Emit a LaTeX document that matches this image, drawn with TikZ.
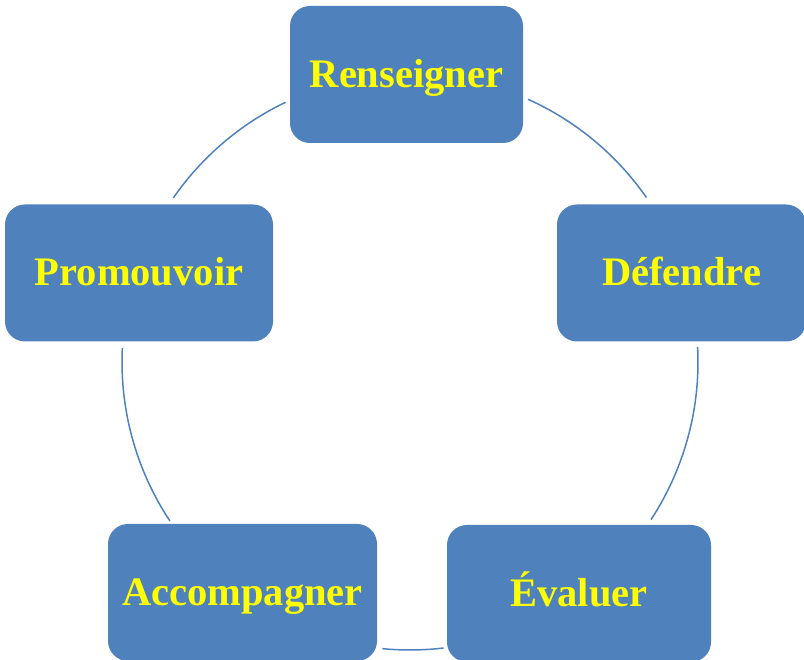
\documentclass[tikz,border=0pt]{standalone}
\usepackage{fontspec}
\setmainfont{Liberation Serif}
\usetikzlibrary{calc}
\definecolor{boxblue}{HTML}{4F81BD}
\definecolor{txtyellow}{HTML}{FFFF00}
\begin{document}
\begin{tikzpicture}[x=1pt, y=1pt,
    etape/.style={fill=boxblue, rounded corners=20pt, minimum height=137pt, inner sep=0pt,
        text height=32pt, text depth=6pt, text=txtyellow, font=\bfseries\fontsize{40.5}{46}\selectfont},
    cercle/.style={draw=boxblue, line width=1.5pt}]
    \clip (0,0) rectangle (804,660);
    \coordinate (O) at (410,298);
    \node[etape, minimum width=233pt] (R) at (406.5,585.5) {Renseigner};
    \node[etape, minimum width=249pt] (D) at (681.5,387) {Défendre};
    \node[etape, minimum width=264pt] (E) at (579,66.5) {Évaluer};
    \node[etape, minimum width=269pt] (A) at (242.5,67.5) {Accompagner};
    \node[etape, minimum width=268pt] (P) at (139,387) {Promouvoir};
    \foreach \a/\b in {65.8/34.8, 3.0/-33.2, -83.3/-95.5, 213.5/177.2, 145.3/115.6}
        \draw[cercle] ($(O)+(\a:288pt)$) arc[start angle=\a, end angle=\b, radius=288pt];
\end{tikzpicture}
\end{document}
